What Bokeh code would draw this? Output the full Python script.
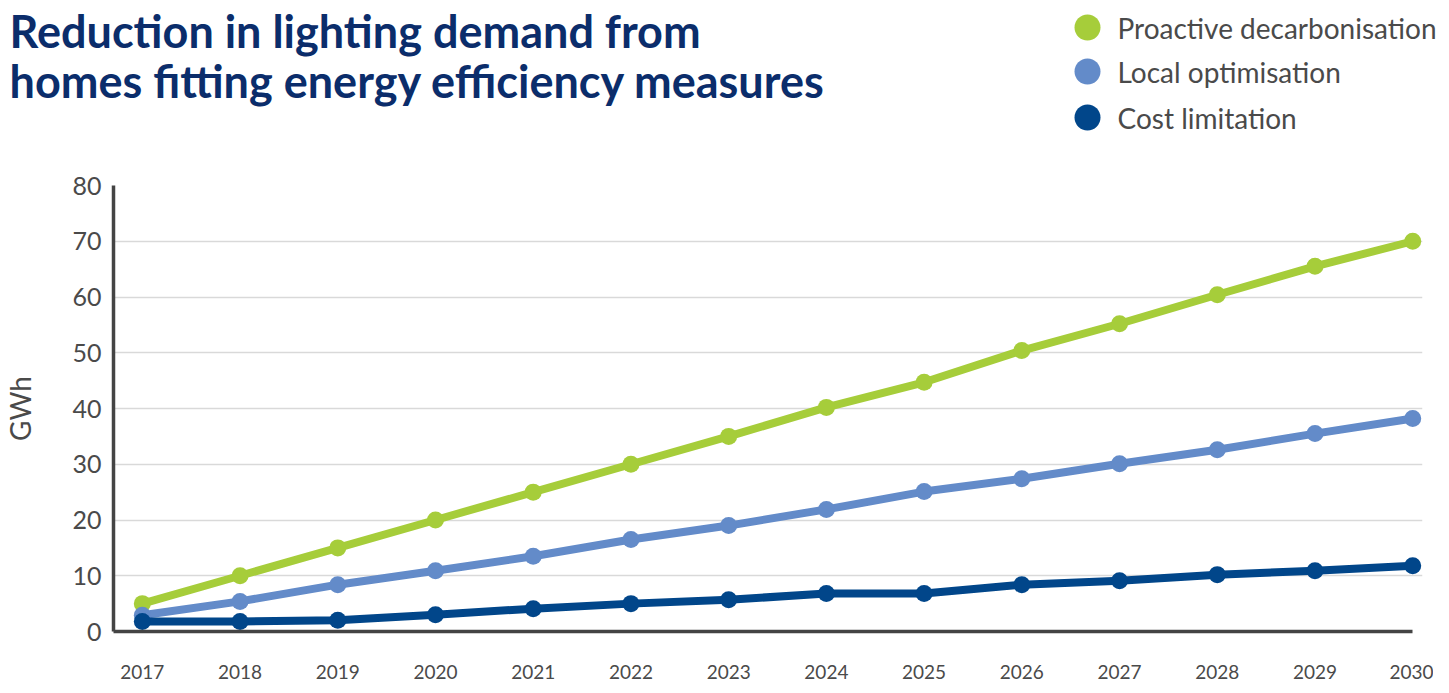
from bokeh.plotting import figure
from bokeh.models import Range1d, FixedTicker
from bokeh.core.properties import value
from bokeh.embed import file_html
from bokeh.resources import INLINE

# ---- data ----
years = list(range(2017, 2031))
proactive = [5.0, 10.0, 15.0, 20.0, 25.0, 30.0, 35.0, 40.2, 44.7, 50.4, 55.2, 60.4, 65.5, 70.0]
local = [2.9, 5.4, 8.4, 10.9, 13.5, 16.5, 19.0, 21.9, 25.1, 27.4, 30.1, 32.6, 35.5, 38.2]
cost = [1.8, 1.8, 2.0, 3.0, 4.1, 5.0, 5.7, 6.8, 6.8, 8.4, 9.1, 10.2, 10.9, 11.8]
series_names = ["Proactive decarbonisation", "Local optimisation", "Cost limitation"]
y_ticks = [0, 10, 20, 30, 40, 50, 60, 70, 80]
title_lines = ["Reduction in lighting demand from", "homes fitting energy efficiency measures"]
y_label = "GWh"

colors = ["#a6cd3a", "#638bc9", "#01468a"]
series = [proactive, local, cost]

W = 1433
HW = 1440
BL, BR = 104, 11
HEAD_H = 160
MAIN_H = 528
X0, X1 = 2016.705, 2030.10

# ---- header (title + legend); its data units are pixels ----
head = figure(width=HW, height=HEAD_H, x_range=Range1d(0, HW), y_range=Range1d(HEAD_H, 0),
              toolbar_location=None, output_backend="svg", x_axis_type=None, y_axis_type=None,
              min_border=0, outline_line_color=None)
head.grid.visible = False
head.text(x=[9, 9], y=[30, 80], text=title_lines, text_font=value("Lato"),
          text_font_style="bold", text_font_size="45px", text_color="#0b2d6b",
          text_baseline="middle", text_align="left")
leg_y = [27, 71, 117]
head.scatter(x=[1087] * 3, y=leg_y, size=26, color=colors, line_color=None)
head.text(x=[1117] * 3, y=leg_y, text=series_names, text_font=value("Lato"),
          text_font_size="28px", text_color="#4a4a4a", text_baseline="middle", text_align="left")

# ---- main chart ----
p = figure(width=W, height=MAIN_H, x_range=Range1d(X0, X1), y_range=Range1d(0, 80),
           toolbar_location=None, output_backend="svg",
           min_border_left=BL, min_border_right=BR, min_border_top=25, min_border_bottom=57,
           outline_line_color=None)
p.xgrid.visible = False
p.ygrid.grid_line_color = "#d9d9d9"
p.ygrid.grid_line_width = 1.5

p.xaxis.ticker = FixedTicker(ticks=years)
p.xaxis.bounds = (X0, 2030)
p.yaxis.ticker = FixedTicker(ticks=y_ticks)
for ax in (p.xaxis, p.yaxis):
    ax.axis_line_color = "#444444"
    ax.axis_line_width = 3.5
    ax.major_tick_line_color = None
    ax.minor_tick_line_color = None
    ax.major_tick_out = 0
    ax.major_label_text_color = "#4a4a4a"
    ax.major_label_text_font = "Lato"
p.xaxis.major_label_text_font_size = "19px"
p.xaxis.major_label_standoff = 33
p.yaxis.major_label_text_font_size = "25px"
p.yaxis.major_label_standoff = 12
p.yaxis.axis_label = y_label
p.yaxis.axis_label_text_font = "Lato"
p.yaxis.axis_label_text_font_style = "normal"
p.yaxis.axis_label_text_font_size = "28px"
p.yaxis.axis_label_text_color = "#4a4a4a"
p.yaxis.axis_label_standoff = 32

for vals, c in zip(series, colors):
    p.line(years, vals, line_width=8, color=c)
    p.scatter(years, vals, size=17, color=c, line_color=None)

open("out.html", "w").write(file_html([head, p], INLINE))
